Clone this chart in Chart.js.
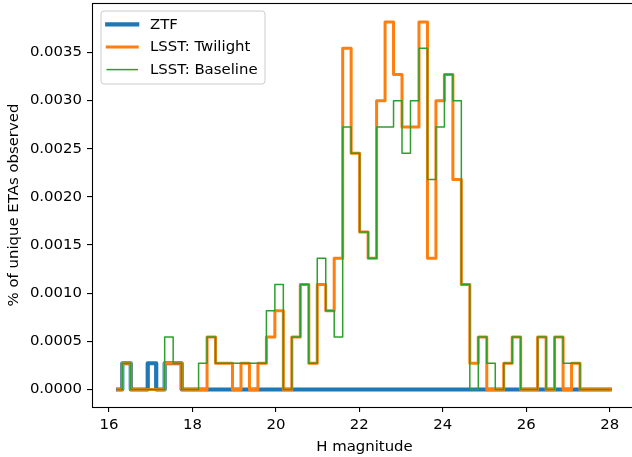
<!DOCTYPE html>
<html>
<head>
<meta charset="utf-8">
<script src="https://cdn.jsdelivr.net/npm/chart.js@4/dist/chart.umd.min.js"></script>
<style>
  html, body { margin: 0; padding: 0; background: #fff; overflow: hidden; }
  #wrap { width: 632px; height: 457px; overflow: hidden; }
</style>
</head>
<body>
<div id="wrap"><canvas id="c" width="637" height="457"></canvas></div>
<script>
// ---- data ----
const hCenters = [16.217, 16.421, 16.624, 16.827, 17.030, 17.233, 17.436, 17.640, 17.843, 18.046,
  18.249, 18.452, 18.655, 18.858, 19.062, 19.265, 19.468, 19.671, 19.874, 20.077,
  20.280, 20.484, 20.687, 20.890, 21.093, 21.296, 21.499, 21.702, 21.905, 22.109,
  22.312, 22.515, 22.718, 22.921, 23.124, 23.327, 23.531, 23.734, 23.937, 24.140,
  24.343, 24.546, 24.749, 24.952, 25.156, 25.359, 25.562, 25.765, 25.968, 26.171,
  26.374, 26.578, 26.781, 26.984, 27.187, 27.390, 27.593, 27.796, 28.000];

const ztf = [0, 0.0002725, 0, 0, 0.0002725, 0, 0.0002725, 0.0002725, 0, 0,
  0, 0, 0, 0, 0, 0, 0, 0, 0, 0,
  0, 0, 0, 0, 0, 0, 0, 0, 0, 0,
  0, 0, 0, 0, 0, 0, 0, 0, 0, 0,
  0, 0, 0, 0, 0, 0, 0, 0, 0, 0,
  0, 0, 0, 0, 0, 0, 0, 0, 0];

const lsstTwilight = [0, 0.0002725, 0, 0, 0, 0, 0.0002725, 0.0002725, 0, 0,
  0, 0.000545, 0.0002725, 0.0002725, 0, 0.0002725, 0, 0.0002725, 0.000545, 0.0008175,
  0, 0.000545, 0.00109, 0.0002725, 0.00109, 0.0008175, 0.0013625, 0.0035425, 0.0024525, 0.001635,
  0.0013625, 0.0029975, 0.003815, 0.00327, 0.002725, 0.002725, 0.003815, 0.0013625, 0.0029975, 0.00327,
  0.00218, 0.00109, 0.0002725, 0.000545, 0, 0, 0.0002725, 0.000545, 0, 0,
  0.000545, 0, 0.000545, 0, 0.0002725, 0, 0, 0, 0];

const lsstBaseline = [0, 0.0002725, 0, 0, 0, 0, 0.000545, 0.0002725, 0, 0,
  0.0002725, 0.000545, 0.0002725, 0.0002725, 0.0002725, 0.0002725, 0.0002725, 0.0002725, 0.0008175, 0.00109,
  0, 0.000545, 0.00109, 0.0002725, 0.0013625, 0.0008175, 0.000545, 0.002725, 0.0024525, 0.001635,
  0.0013625, 0.002725, 0.002725, 0.0029975, 0.0024525, 0.0029975, 0.0035425, 0.00218, 0.002725, 0.00327,
  0.0029975, 0.00109, 0, 0.000545, 0.0002725, 0, 0.0002725, 0.000545, 0, 0,
  0.000545, 0, 0.000545, 0.0002725, 0.0002725, 0, 0, 0, 0];

const seriesLabels = ['ZTF', 'LSST: Twilight', 'LSST: Baseline'];
const xTicks = [16, 18, 20, 22, 24, 26, 28];
const yTicks = [0, 0.0005, 0.0010, 0.0015, 0.0020, 0.0025, 0.0030, 0.0035];
const xTitle = 'H magnitude';
const yTitle = '% of unique ETAs observed';

// ---- chart ----
const FONT = 'DejaVu Sans';
const FS = 14.9;
Chart.defaults.font.family = FONT;
Chart.defaults.font.size = FS;
Chart.defaults.color = '#000';

function pts(vals) { return hCenters.map((h, i) => ({ x: h, y: vals[i] })); }

function ds(label, vals, color, width, order) {
  return {
    label, data: pts(vals), borderColor: color, backgroundColor: color,
    borderWidth: width, stepped: 'middle', pointRadius: 0, fill: false,
    borderCapStyle: 'square', borderJoinStyle: 'round', order
  };
}

const frameAndLegend = {
  id: 'frameAndLegend',
  afterDatasetsDraw(chart) {
    const { ctx, chartArea: a } = chart;
    ctx.save();
    ctx.strokeStyle = '#000';
    ctx.lineWidth = 1.1;
    ctx.strokeRect(a.left + 0.5, a.top + 0.5, a.right - a.left - 1, a.bottom - a.top);
    ctx.restore();
  },
  afterDraw(chart) {
    const ctx = chart.ctx;
    ctx.save();
    const bx = 101, by = 11, bw = 164, bh = 73, r = 3;
    ctx.beginPath();
    ctx.moveTo(bx + r, by);
    ctx.lineTo(bx + bw - r, by);
    ctx.arcTo(bx + bw, by, bx + bw, by + r, r);
    ctx.lineTo(bx + bw, by + bh - r);
    ctx.arcTo(bx + bw, by + bh, bx + bw - r, by + bh, r);
    ctx.lineTo(bx + r, by + bh);
    ctx.arcTo(bx, by + bh, bx, by + bh - r, r);
    ctx.lineTo(bx, by + r);
    ctx.arcTo(bx, by, bx + r, by, r);
    ctx.closePath();
    ctx.fillStyle = 'rgba(255,255,255,0.8)';
    ctx.fill();
    ctx.strokeStyle = '#cccccc';
    ctx.lineWidth = 1;
    ctx.stroke();
    const rows = [24.3, 46.9, 69.6];
    chart.data.datasets.forEach((d, i) => {
      const y = rows[i];
      ctx.beginPath();
      ctx.lineCap = 'square';
      ctx.strokeStyle = d.borderColor;
      ctx.lineWidth = d.borderWidth;
      ctx.moveTo(107.2, y);
      ctx.lineTo(137.2, y);
      ctx.stroke();
      ctx.fillStyle = '#000';
      ctx.font = FS + 'px "' + FONT + '"';
      ctx.textBaseline = 'middle';
      ctx.textAlign = 'left';
      ctx.fillText(d.label, 150, y + 0.4);
    });
    ctx.restore();
  }
};

new Chart(document.getElementById('c'), {
  type: 'line',
  data: {
    datasets: [
      ds(seriesLabels[0], ztf, '#1f77b4', 4.2, 3),
      ds(seriesLabels[1], lsstTwilight, '#ff7f0e', 3.0, 2),
      ds(seriesLabels[2], lsstBaseline, '#2ca02c', 1.5, 1)
    ]
  },
  options: {
    responsive: false,
    animation: false,
    devicePixelRatio: 1,
    layout: { padding: { top: 3, left: 0, right: 0, bottom: 0 } },
    plugins: { legend: { display: false }, tooltip: { enabled: false } },
    scales: {
      x: {
        type: 'linear', min: 15.593, max: 28.654,
        afterFit(s) { s.height = 50; s.paddingLeft = 0; s.paddingRight = 0; s.paddingTop = 0; s.paddingBottom = 0; },
        afterBuildTicks(s) { s.ticks = xTicks.map(v => ({ value: v })); },
        grid: { drawOnChartArea: false, drawTicks: true, tickLength: 5, color: '#000', lineWidth: 1.1 },
        border: { display: false },
        ticks: { padding: 4.3, autoSkip: false, maxRotation: 0, color: '#000', callback: v => String(v) },
        title: { display: true, text: xTitle, color: '#000', padding: { top: 0, bottom: 1.3 } }
      },
      y: {
        type: 'linear', min: -0.0001816, max: 0.0040118,
        afterFit(s) { s.width = 92; s.paddingLeft = 0; s.paddingRight = 0; s.paddingTop = 0; s.paddingBottom = 0; },
        afterBuildTicks(s) { s.ticks = yTicks.map(v => ({ value: v })); },
        grid: { drawOnChartArea: false, drawTicks: true, tickLength: 5, color: '#000', lineWidth: 1.1 },
        border: { display: false },
        ticks: { padding: 5, autoSkip: false, color: '#000', callback: v => Number(v).toFixed(4) },
        title: { display: true, text: yTitle, color: '#000', padding: { top: 5, bottom: 0 } }
      }
    }
  },
  plugins: [frameAndLegend]
});
</script>
</body>
</html>
